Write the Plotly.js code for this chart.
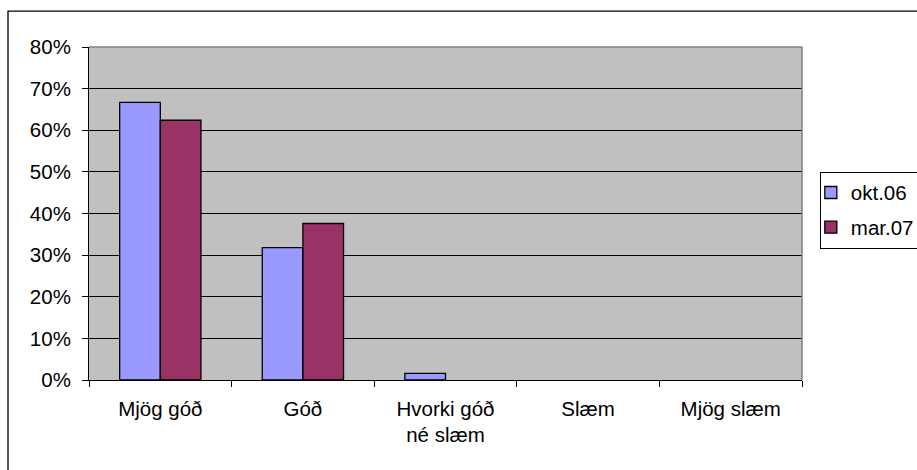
<!DOCTYPE html>
<html><head><meta charset="utf-8">
<script src="https://cdn.plot.ly/plotly-3.0.1.min.js"></script>
<style>html,body{margin:0;padding:0;background:#fff}</style>
</head><body>
<div id="chart" style="width:917px;height:470px"></div>
<script>
const categories = ["Mjög góð", "Góð", "Hvorki góð<br>né slæm", "Slæm", "Mjög slæm"];
const seriesNames = ["okt.06", "mar.07"];
const okt06 = [0.667, 0.318, 0.016, 0, 0];
const mar07 = [0.624, 0.376, 0, 0, 0];
const yTickVals = [0, 0.1, 0.2, 0.3, 0.4, 0.5, 0.6, 0.7, 0.8];
const yTickText = ["0%", "10%", "20%", "30%", "40%", "50%", "60%", "70%", "80%"];

const show = arr => arr.map(v => (v === 0 ? null : v));
const font = {family: "Liberation Sans, Arial, sans-serif", size: 20.5, color: "#000"};
const data = [
  {type: "bar", name: seriesNames[0], x: categories, y: show(okt06), legendgroup: "a",
   marker: {color: "#9999FF", line: {color: "#000", width: 1.3}}},
  {type: "bar", name: seriesNames[1], x: categories, y: show(mar07), legendgroup: "b",
   marker: {color: "#993366", line: {color: "#000", width: 1.3}}}
];
const layout = {
  width: 917, height: 470,
  margin: {l: 89, r: 115, t: 47, b: 90, autoexpand: false},
  paper_bgcolor: "#fff", plot_bgcolor: "#C0C0C0",
  font: font,
  barmode: "group", bargap: 0.43, bargroupgap: 0,
  showlegend: true,
  legend: {x: 1.025, xanchor: "left", y: 0.51, yanchor: "middle",
    bordercolor: "#000", borderwidth: 1, bgcolor: "#fff", indentation: -10,
    font: font, traceorder: "grouped", tracegroupgap: 5, itemwidth: 30},
  xaxis: {type: "category", tickson: "boundaries", ticks: "outside", ticklen: 6,
    tickcolor: "#000", showline: true, linecolor: "#000", linewidth: 1,
    showgrid: false, tickfont: font, ticklabelstandoff: 10, fixedrange: true},
  yaxis: {range: [0, 0.8], tickvals: yTickVals, ticktext: yTickText,
    ticks: "outside", ticklen: 6, tickcolor: "#000",
    showline: true, linecolor: "#000", linewidth: 1,
    showgrid: true, gridcolor: "#000", gridwidth: 1, ticklabelstandoff: 7,
    zeroline: false, tickfont: font, fixedrange: true},
  shapes: [
    {type: "line", xref: "paper", yref: "paper", x0: 0, x1: 1, y0: 1, y1: 1,
     line: {color: "#808080", width: 1.5}},
    {type: "line", xref: "paper", yref: "paper", x0: 1, x1: 1, y0: 0, y1: 1,
     line: {color: "#808080", width: 1.5}},
    {type: "rect", xref: "paper", yref: "paper", x0: -0.1136, x1: 1.3, y0: -0.4, y1: 1.108,
     line: {color: "#000", width: 1.3}, layer: "below"}
  ]
};
Plotly.newPlot("chart", data, layout, {displayModeBar: false, staticPlot: true});
</script>
</body></html>
